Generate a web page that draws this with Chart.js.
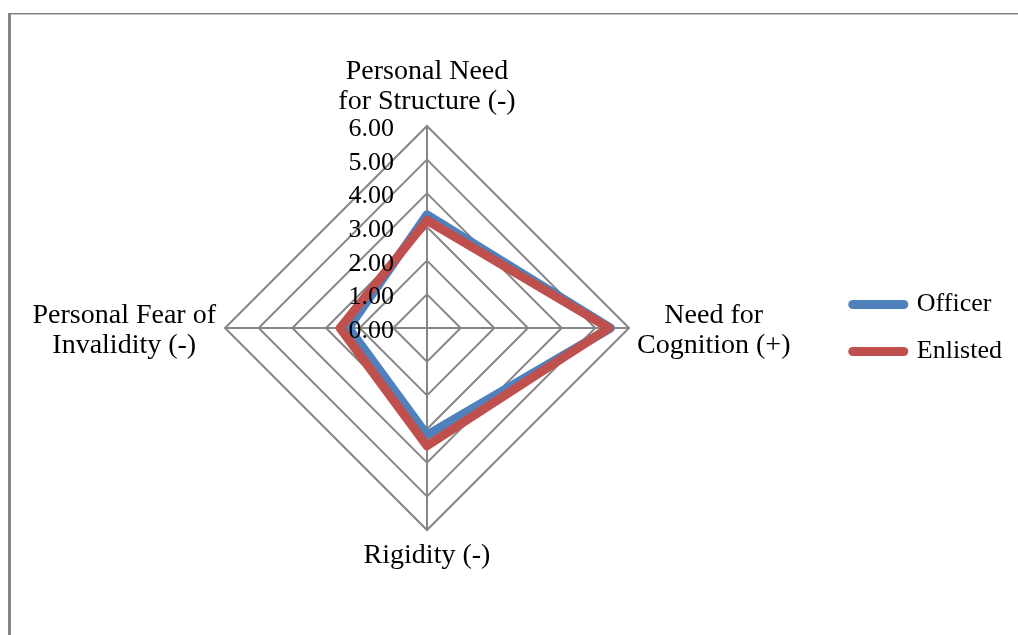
<!DOCTYPE html>
<html>
<head>
<meta charset="utf-8">
<title>Radar</title>
<script src="https://cdn.jsdelivr.net/npm/chart.js@4.4.1/dist/chart.umd.min.js"></script>
<style>
  html, body { margin: 0; padding: 0; background: #fff; overflow: hidden; }
  .frame {
    position: absolute; left: 8px; top: 13px; width: 1100px; height: 700px;
    border-left: 3px solid #868686; border-top: 1px solid #808080;
    box-shadow: inset 0 1px 0 #c8c8c8;
  }
  .wrap { position: absolute; left: 0; top: 0; width: 1018px; height: 635px; }
</style>
</head>
<body>
<div class="frame"></div>
<div class="wrap"><canvas id="radar"></canvas></div>
<script>
// axis categories, each split into the lines it is printed on
const categories = [
    ['Personal Need', 'for Structure (-)'],
    ['Need for', 'Cognition (+)'],
    ['Rigidity (-)'],
    ['Personal Fear of', 'Invalidity (-)']
];
const officer = [3.36, 5.45, 3.18, 2.33];
const enlisted = [3.2, 5.4, 3.5, 2.58];
const tickValues = [0, 1, 2, 3, 4, 5, 6];

const serif = '"Liberation Serif", "DejaVu Serif", serif';
const blue = '#4f81bd';
const red = '#c0504d';
const grid = '#868686';

// tick numbers and the category names are drawn here so that they sit
// left of the vertical axis and multi-line names stay centred
const radarText = {
    id: 'radarText',
    afterDraw(chart) {
        const scale = chart.scales.r;
        const ctx = chart.ctx;
        ctx.save();
        ctx.fillStyle = '#000';
        ctx.textBaseline = 'alphabetic';

        ctx.font = '26px ' + serif;
        ctx.textAlign = 'right';
        scale.ticks.forEach(t => {
            const y = scale.yCenter - scale.getDistanceFromCenterForValue(t.value);
            ctx.fillText(t.value.toFixed(2), scale.xCenter - 33, y + 10);
        });

        ctx.font = '28px ' + serif;
        ctx.textAlign = 'center';
        const lineH = 30;
        categories.forEach((lines, i) => {
            const p = scale.getPointPosition(i, scale.drawingArea);
            const dx = p.x - scale.xCenter;
            const dy = p.y - scale.yCenter;
            const w = Math.max(...lines.map(s => ctx.measureText(s).width));
            lines.forEach((s, k) => {
                let x, y;
                if (Math.abs(dx) < 1) {
                    x = p.x;
                    y = dy < 0 ? p.y - 17 - (lines.length - 1 - k) * lineH
                               : p.y + 33 + k * lineH;
                } else {
                    x = dx > 0 ? p.x + 8 + w / 2 : p.x - 9 - w / 2;
                    y = p.y - 5 + k * lineH;
                }
                ctx.fillText(s, x, y);
            });
        });
        ctx.restore();
    }
};

new Chart(document.getElementById('radar'), {
    type: 'radar',
    data: {
        labels: categories,
        datasets: [{
            label: 'Officer',
            data: officer,
            borderColor: blue,
            backgroundColor: blue,
            order: 1
        }, {
            label: 'Enlisted',
            data: enlisted,
            borderColor: red,
            backgroundColor: red,
            order: 0
        }]
    },
    options: {
        responsive: true,
        maintainAspectRatio: false,
        animation: false,
        events: [],
        layout: {
            padding: { left: 24, right: 6, top: 126, bottom: 105 }
        },
        elements: {
            line: { borderWidth: 9, fill: false, tension: 0, borderJoinStyle: 'round' },
            point: { radius: 0, hoverRadius: 0 }
        },
        scales: {
            r: {
                min: 0,
                max: 6,
                beginAtZero: true,
                ticks: { stepSize: 1, display: false },
                afterBuildTicks: (scale) => {
                    scale.ticks = tickValues.map(v => ({ value: v }));
                },
                grid: { color: grid, lineWidth: 2 },
                angleLines: { color: grid, lineWidth: 2 },
                pointLabels: { display: false }
            }
        },
        plugins: {
            tooltip: { enabled: false },
            legend: {
                position: 'right',
                labels: {
                    usePointStyle: true,
                    pointStyleWidth: 51,
                    padding: 21,
                    color: '#000',
                    font: { family: serif, size: 26 },
                    generateLabels: (chart) => chart.data.datasets.map((ds, i) => ({
                        text: ds.label,
                        fillStyle: ds.borderColor,
                        strokeStyle: ds.borderColor,
                        lineWidth: 9,
                        lineCap: 'round',
                        pointStyle: 'line',
                        fontColor: '#000',
                        hidden: false,
                        datasetIndex: i
                    }))
                }
            }
        }
    },
    plugins: [radarText]
});
</script>
</body>
</html>
